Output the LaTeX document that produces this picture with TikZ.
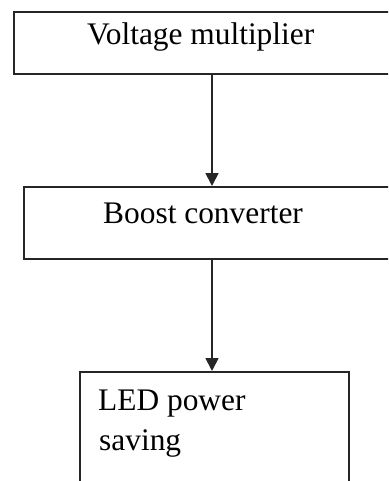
\documentclass[tikz,border=0pt]{standalone}
\usepackage{fontspec}
\setmainfont{Liberation Serif}
\usetikzlibrary{arrows.meta}
\begin{document}
\begin{tikzpicture}[x=1pt,y=-1pt,
  box/.style={draw=black!85, line width=1.8pt, inner sep=0pt, anchor=north west},
  lbl/.style={anchor=base west, inner sep=0pt, font=\fontsize{31.4}{40}\selectfont},
  arr/.style={draw=black!85, line width=1.8pt, -{Triangle[length=13pt,width=13pt]}}]
\useasboundingbox (0,0) rectangle (388,481);
\clip (0,0) rectangle (388,481);
\node[box, minimum width=400pt, minimum height=62pt] (b1) at (13,11) {};
\node[box, minimum width=400pt, minimum height=72pt] (b2) at (23,186) {};
\node[box, minimum width=269pt, minimum height=130pt] (b3) at (79,371) {};
\node[lbl] (t1) at (87,45) {Voltage multiplier};
\node[lbl] (t2) at (103,223) {Boost converter};
\node[lbl] (t3) at (98,410) {LED power};
\node[lbl] (t4) at (99,450) {saving};
\coordinate (ax) at (212,0);
\draw[arr] (ax |- b1.south) -- (ax |- b2.north);
\draw[arr] (ax |- b2.south) -- (ax |- b3.north);
\end{tikzpicture}
\end{document}
